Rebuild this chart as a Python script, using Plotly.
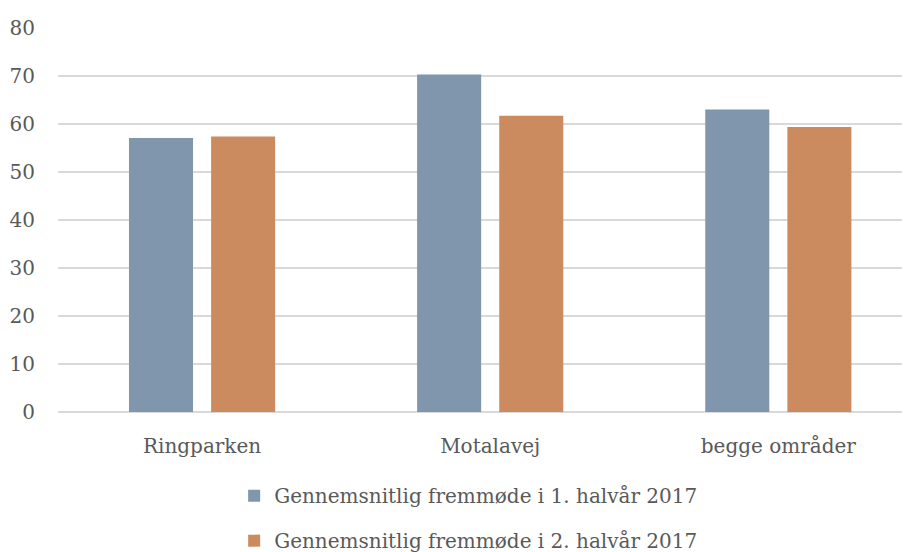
import plotly.graph_objects as go

categories = ["Ringparken", "Motalavej", "begge områder"]
series1_name = "Gennemsnitlig fremmøde i 1. halvår 2017"
series2_name = "Gennemsnitlig fremmøde i 2. halvår 2017"
series1 = [57.1, 70.3, 63.0]
series2 = [57.4, 61.7, 59.4]
y_ticks = [0, 10, 20, 30, 40, 50, 60, 70, 80]

FONT = "DejaVu Serif"
TXT = "#595959"

fig = go.Figure()
fig.add_trace(go.Bar(x=categories, y=series1, name=series1_name,
                     marker=dict(color="#7F96AC", line=dict(width=0)),
                     legendgroup="a"))
fig.add_trace(go.Bar(x=categories, y=series2, name=series2_name,
                     marker=dict(color="#CC8B5E", line=dict(width=0)),
                     legendgroup="b"))

fig.update_layout(
    width=902, height=544,
    margin=dict(l=50, r=0, t=20, b=140, autoexpand=False),
    paper_bgcolor="white", plot_bgcolor="white",
    barmode="group", bargap=0.43, bargroupgap=0.22,
    font=dict(family=FONT, color=TXT, size=18),
    xaxis=dict(range=[-0.5, 2.457], showgrid=False, zeroline=False, automargin=False,
               showline=False, ticks="", ticklabelstandoff=20,
               tickfont=dict(size=20, family=FONT, color=TXT)),
    yaxis=dict(range=[0, 80], tickvals=y_ticks, showgrid=True, gridcolor="#D9D9D9",
               gridwidth=1.5, zeroline=True, zerolinecolor="#D9D9D9", zerolinewidth=1.5,
               showline=False, ticks="", ticklabelstandoff=22, automargin=False,
               tickfont=dict(size=20, family=FONT, color=TXT)),
    legend=dict(orientation="v", x=0.482, xanchor="center", y=-0.167, yanchor="top",
                font=dict(size=20, family=FONT, color=TXT), tracegroupgap=16,
                itemclick=False),
    showlegend=True,
)

fig.write_html("out.html", post_script="document.documentElement.style.overflow='hidden';document.body.style.overflow='hidden';")
